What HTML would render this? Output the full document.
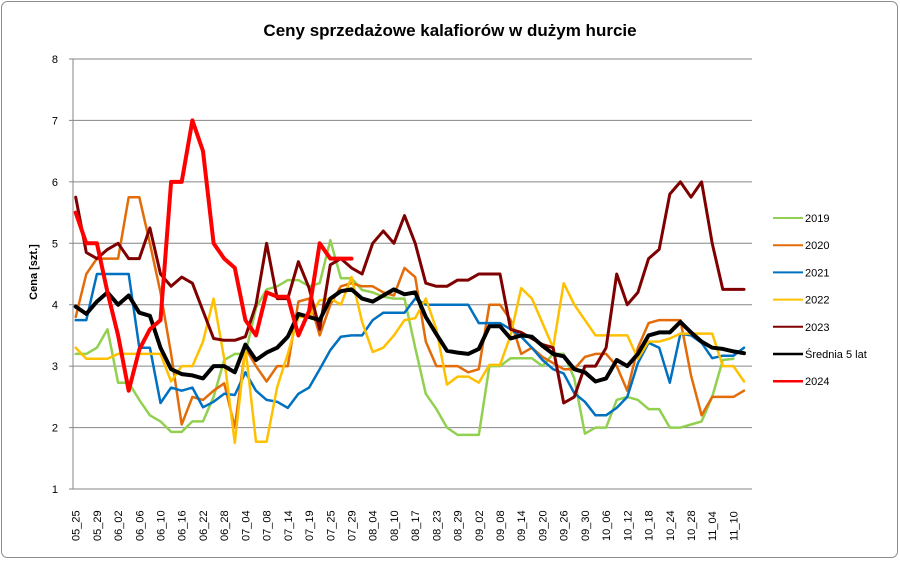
<!DOCTYPE html>
<html><head><meta charset="utf-8"><style>
html,body{margin:0;padding:0;background:#fff;}
svg{display:block;font-family:"Liberation Sans",Arial,sans-serif;}
</style></head><body>
<svg id="chart" width="900" height="561" viewBox="0 0 900 561">
<rect x="1.5" y="1.5" width="896" height="556" rx="6" fill="#fff" stroke="#8c8c8c"/>
<text x="450" y="36" text-anchor="middle" font-size="17" font-weight="bold" fill="#000">Ceny sprzedażowe kalafiorów w dużym hurcie</text>
<text transform="translate(37,272) rotate(-90)" text-anchor="middle" font-size="11" font-weight="bold">Cena [szt.]</text>
<g id="grid"></g><g id="yticks"></g><g id="xticks"></g><g id="series"></g><g id="legend"></g>
</svg>
<script>
const xLabels=["05_25","05_29","06_02","06_06","06_10","06_16","06_22","06_28","07_04","07_08","07_14","07_19","07_25","07_29","08_04","08_10","08_17","08_23","08_29","09_02","09_08","09_14","09_20","09_26","09_30","10_06","10_12","10_18","10_24","10_28","11_04","11_10"];
const yTicks=[1,2,3,4,5,6,7,8];
const seriesNames=["2019","2020","2021","2022","2023","Średnia 5 lat","2024"];
const s2019=[3.2,3.2,3.3,3.6,2.73,2.73,2.45,2.2,2.1,1.93,1.93,2.1,2.1,2.5,3.1,3.2,3.2,3.95,4.25,4.3,4.4,4.4,4.3,4.35,5.05,4.43,4.43,4.24,4.2,4.13,4.1,4.1,3.3,2.55,2.3,2.0,1.88,1.88,1.88,3.0,3.0,3.13,3.13,3.13,3.0,3.2,3.2,2.8,1.9,2.0,2.0,2.45,2.5,2.45,2.3,2.3,2.0,2.0,2.05,2.1,2.5,3.1,3.12,null];
const s2020=[3.8,4.5,4.75,4.75,4.75,5.75,5.75,5.0,4.2,3.2,2.05,2.5,2.45,2.6,2.72,2.0,3.3,3.0,2.75,3.0,3.0,4.05,4.1,3.5,4.0,4.3,4.35,4.3,4.3,4.2,4.15,4.6,4.45,3.4,3.0,3.0,3.0,2.9,2.95,4.0,4.0,3.75,3.2,3.3,3.15,3.05,2.95,2.95,3.15,3.2,3.2,3.0,2.6,3.3,3.7,3.75,3.75,3.75,2.85,2.2,2.5,2.5,2.5,2.6];
const s2021=[3.75,3.75,4.5,4.5,4.5,4.5,3.3,3.3,2.4,2.65,2.6,2.65,2.33,2.42,2.55,2.53,2.9,2.6,2.45,2.42,2.32,2.55,2.65,2.95,3.26,3.48,3.5,3.5,3.75,3.87,3.87,3.87,4.1,4.0,4.0,4.0,4.0,4.0,3.7,3.7,3.7,3.6,3.48,3.3,3.1,2.95,2.88,2.56,2.42,2.2,2.2,2.32,2.5,3.05,3.38,3.3,2.73,3.53,3.5,3.38,3.13,3.17,3.17,3.3];
const s2022=[3.3,3.12,3.12,3.12,3.2,3.2,3.2,3.2,3.2,2.75,3.0,3.0,3.4,4.1,3.12,1.75,3.3,1.77,1.77,2.66,3.2,3.8,3.8,4.07,4.1,4.0,4.45,3.72,3.23,3.3,3.5,3.75,3.78,4.1,3.6,2.7,2.83,2.83,2.73,3.02,3.02,3.5,4.27,4.1,3.7,3.3,4.35,4.0,3.75,3.5,3.5,3.5,3.5,3.12,3.4,3.4,3.45,3.53,3.53,3.53,3.53,3.0,3.0,2.75];
const s2023=[5.75,4.85,4.75,4.9,5.0,4.75,4.75,5.25,4.5,4.3,4.45,4.35,3.9,3.45,3.42,3.42,3.48,4.0,5.0,4.1,4.1,4.7,4.27,3.6,4.65,4.75,4.6,4.5,5.0,5.2,5.0,5.45,5.0,4.35,4.3,4.3,4.4,4.4,4.5,4.5,4.5,3.6,3.55,3.45,3.35,3.3,2.4,2.5,3.0,3.0,3.3,4.5,4.0,4.2,4.75,4.9,5.8,6.0,5.75,6.0,5.0,4.25,4.25,4.25];
const sAvg=[3.97,3.85,4.05,4.2,4.0,4.15,3.87,3.82,3.3,2.95,2.87,2.85,2.8,3.0,3.0,2.9,3.35,3.1,3.22,3.3,3.48,3.85,3.8,3.75,4.1,4.22,4.25,4.1,4.05,4.15,4.25,4.17,4.2,3.8,3.52,3.25,3.22,3.2,3.28,3.65,3.65,3.45,3.5,3.48,3.33,3.2,3.16,2.95,2.9,2.75,2.8,3.1,3.0,3.2,3.5,3.55,3.55,3.72,3.55,3.4,3.3,3.28,3.24,3.21];
const s2024=[5.5,5.0,5.0,4.2,3.5,2.6,3.27,3.6,3.75,6.0,6.0,7.0,6.5,5.0,4.75,4.6,3.75,3.5,4.2,4.13,4.13,3.5,3.9,5.0,4.75,4.75,4.75];
const seriesData=[s2019,s2020,s2021,s2022,s2023,sAvg,s2024];
const colors=["#92D050","#E36C09","#0070C0","#FFC000","#7F0000","#000000","#FF0000"];
const widths=[2.5,2.5,2.5,2.5,3,4,4];
const NS="http://www.w3.org/2000/svg";
const X0=73,X1=752,Ytop=59,Ybot=489,NCAT=128;
const catW=(X1-X0)/NCAT;
function xAt(i){return X0+(2*i+0.5)*catW;}
function xLab(j){return X0+(4*j+0.5)*catW;}
function yAt(v){return Ybot-(v-1)/(8-1)*(Ybot-Ytop);}
function mk(t,a,p){const e=document.createElementNS(NS,t);for(const k in a)e.setAttribute(k,a[k]);p.appendChild(e);return e;}
const g=document.getElementById('grid'),yt=document.getElementById('yticks'),xt=document.getElementById('xticks'),sg=document.getElementById('series'),lg=document.getElementById('legend');
yTicks.forEach(v=>{
 const y=yAt(v);
 const l=mk('line',{x1:X0-4,x2:X1,y1:y,y2:y,stroke:'#868686','stroke-width':1},g);
 
 
 const t=mk('text',{x:58,y:y+4,'text-anchor':'end','font-size':11},yt);
 t.textContent=v;
 
 
});
const ax=mk('line',{x1:X0,x2:X0,y1:Ytop,y2:Ybot,stroke:'#868686','stroke-width':1},g);


xLabels.forEach((s,j)=>{
 const x=xLab(j);
 const t=mk('text',{transform:'translate('+(x+4)+',541) rotate(-90)','font-size':11},xt);
 t.textContent=s;
 
 
});
seriesData.forEach((arr,k)=>{
 let d='';let pen=false;
 arr.forEach((v,i)=>{if(v==null){pen=false;return;}d+=(pen?'L':'M')+xAt(i).toFixed(1)+' '+yAt(v).toFixed(1)+' ';pen=true;});
 const p=mk('path',{d:d,fill:'none',stroke:colors[k],'stroke-width':widths[k],'stroke-linejoin':'round','stroke-linecap':'round'},sg);
 
 
 const ly=218+k*27.2;
 const ll=mk('line',{x1:773,x2:803,y1:ly,y2:ly,stroke:colors[k],'stroke-width':k>=5?2.5:2},lg);
 
 
 const lt=mk('text',{x:805,y:ly+4,'font-size':11},lg);
 lt.textContent=seriesNames[k];
 
 
});
</script>
</body></html>
